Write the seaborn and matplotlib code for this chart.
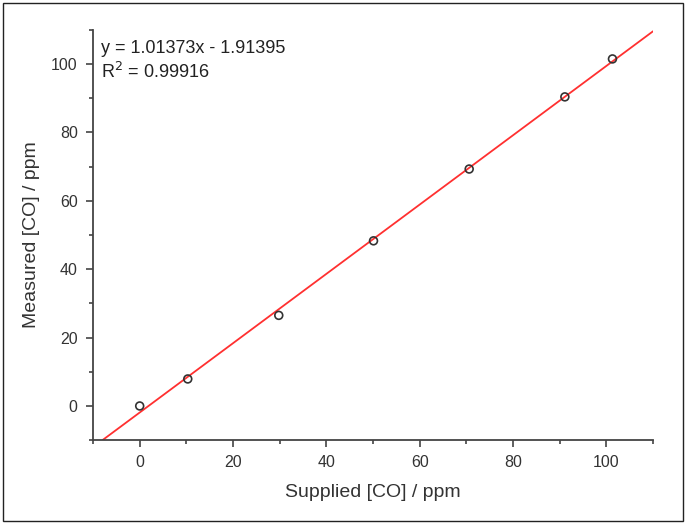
"""Calibration plot: measured vs supplied CO concentration."""
import matplotlib
matplotlib.use('Agg')
import matplotlib.pyplot as plt
from matplotlib.patches import Rectangle
import numpy as np
import pandas as pd
import seaborn as sns

supplied = [0.0, 10.3, 29.8, 50.1, 70.6, 91.1, 101.3]
measured = [0.0, 7.9, 26.5, 48.3, 69.3, 90.4, 101.5]
slope, intercept = 1.01373, -1.91395
r_squared = 0.99916
major_ticks = [0, 20, 40, 60, 80, 100]
minor_ticks = [-10, 10, 30, 50, 70, 90, 110]

df = pd.DataFrame({'supplied': supplied, 'measured': measured})

sns.set_style('ticks')
plt.rcParams['font.family'] = ['Liberation Sans', 'DejaVu Sans']

fig = plt.figure(figsize=(6.86, 5.24), dpi=100)
ax = fig.add_axes([0.1356, 0.160, 0.8164, 0.783])

# fitted line, from the bottom of the axis to the right edge
fit_x = np.array([(-10 - intercept) / slope, 110])
fit_df = pd.DataFrame({'x': fit_x, 'y': slope * fit_x + intercept})
sns.lineplot(data=fit_df, x='x', y='y', color='#ff3030', linewidth=1.3, ax=ax)

sns.scatterplot(data=df, x='supplied', y='measured', marker='o', s=32,
                facecolor='none', edgecolor='#333333', linewidth=1.2,
                zorder=3, ax=ax)

ax.set_xlim(-10, 110)
ax.set_ylim(-10, 110)
ax.set_xticks(major_ticks)
ax.set_yticks(major_ticks)
ax.set_xticks(minor_ticks, minor=True)
ax.set_yticks(minor_ticks, minor=True)
ax.tick_params(which='major', length=5, width=1.2, color='#444444',
               labelsize=11.5, labelcolor='#333333', pad=6)
ax.tick_params(which='minor', length=3, width=1.2, color='#444444')
for side in ['top', 'right']:
    ax.spines[side].set_visible(False)
for side in ['left', 'bottom']:
    ax.spines[side].set_linewidth(1.3)
    ax.spines[side].set_color('#444444')

ax.set_xlabel('Supplied [CO] / ppm', fontsize=14, color='#333333', labelpad=10)
ax.set_ylabel('Measured [CO] / ppm', fontsize=14, color='#333333', labelpad=8)

ax.text(0.015, 0.975, f'y = {slope}x - {abs(intercept)}\nR$^2$ = {r_squared}',
        transform=ax.transAxes, va='top', ha='left', fontsize=13,
        color='#222222', linespacing=1.3)

fig.patches.append(Rectangle((0.005, 0.006), 0.99, 0.988, transform=fig.transFigure,
                             fill=False, edgecolor='#222222', linewidth=1.0))

fig.savefig('out.png', dpi=100)
